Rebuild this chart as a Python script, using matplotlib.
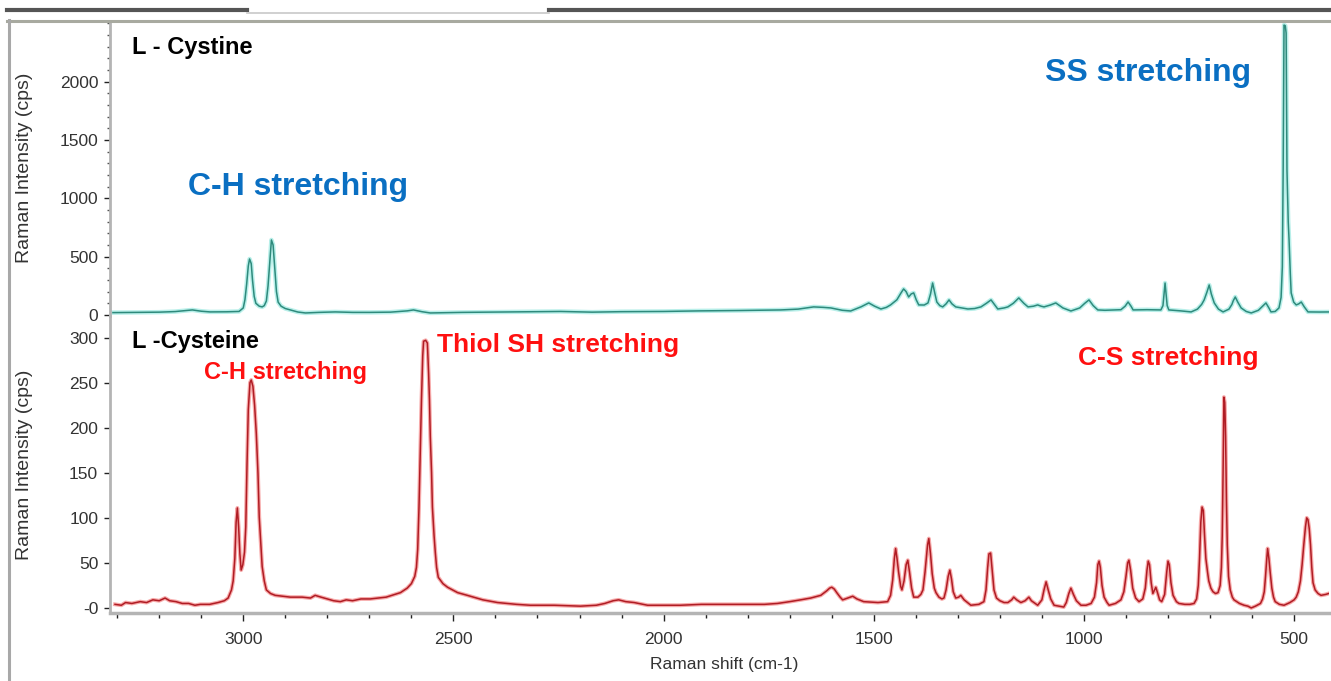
"""
Raman spectra of L-Cystine and L-Cysteine (two stacked panels)
"""

import matplotlib
matplotlib.use('Agg')  # Non-interactive backend

from matplotlib import pyplot as plt
from matplotlib.lines import Line2D
from matplotlib.ticker import MultipleLocator, FixedLocator, FixedFormatter

plt.rcParams['font.family'] = ['Liberation Sans', 'DejaVu Sans']

# =============================================================================
# Data: (Raman shift cm-1, intensity cps)
# =============================================================================
cystine_points = [
    (3310, 20), (3280, 21), (3245, 22), (3200, 24), (3162, 29), (3135, 38),
    (3121, 43), (3100, 32), (3079, 26), (3040, 27), (3010, 30), (3000, 60),
    (2996, 130), (2992, 260), (2988, 420), (2985, 480), (2981, 440), (2978, 300),
    (2974, 160), (2970, 100), (2962, 75), (2955, 69), (2950, 80), (2945, 120),
    (2941, 250), (2937, 450), (2933, 643), (2929, 600), (2925, 400), (2921, 200),
    (2917, 110), (2910, 75), (2900, 55), (2888, 43), (2870, 25), (2852, 17),
    (2820, 22), (2781, 26), (2740, 22), (2700, 22), (2650, 24), (2610, 35),
    (2595, 43), (2575, 28), (2555, 17), (2480, 22), (2388, 25), (2300, 28),
    (2245, 30), (2170, 24), (2102, 28), (2000, 30), (1912, 35), (1820, 38),
    (1721, 43), (1680, 50), (1643, 69), (1620, 65), (1602, 60), (1575, 40),
    (1555, 34), (1530, 70), (1512, 103), (1498, 75), (1483, 51), (1470, 65),
    (1460, 86), (1445, 130), (1435, 190), (1429, 223), (1423, 200), (1417, 154),
    (1411, 180), (1405, 189), (1399, 130), (1393, 86), (1380, 85), (1371, 103),
    (1365, 180), (1360, 274), (1355, 190), (1350, 111), (1343, 80), (1336, 69),
    (1328, 95), (1321, 129), (1314, 95), (1305, 69), (1290, 60), (1276, 51),
    (1260, 55), (1245, 69), (1232, 100), (1221, 129), (1212, 85), (1205, 51),
    (1190, 60), (1181, 69), (1168, 100), (1155, 146), (1143, 100), (1133, 69),
    (1120, 75), (1110, 86), (1102, 75), (1095, 69), (1080, 85), (1067, 103),
    (1050, 60), (1031, 34), (1010, 60), (998, 100), (988, 129), (978, 80),
    (967, 43), (950, 40), (929, 43), (912, 45), (902, 75), (895, 111),
    (888, 75), (883, 43), (850, 45), (817, 43), (812, 80), (809, 200),
    (807, 274), (805, 200), (802, 80), (798, 43), (770, 35), (745, 26),
    (730, 50), (720, 90), (714, 129), (707, 200), (702, 257), (697, 180),
    (690, 103), (680, 50), (669, 26), (655, 50), (648, 90), (645, 120),
    (640, 154), (634, 110), (626, 60), (614, 30), (602, 17), (585, 40),
    (575, 75), (567, 103), (560, 60), (555, 26), (545, 30), (536, 60),
    (531, 150), (528, 411), (526, 1268), (524, 2485), (521, 2480), (519, 2417),
    (517, 1243), (514, 800), (512, 643), (509, 350), (507, 189), (501, 110),
    (495, 86), (489, 95), (483, 111), (476, 70), (467, 26), (440, 25),
    (412, 26),
]

cysteine_points = [
    (3305, 4), (3290, 3), (3280, 6), (3265, 5), (3245, 7), (3230, 6),
    (3215, 9), (3200, 8), (3186, 11), (3175, 8), (3160, 7), (3145, 5),
    (3130, 5), (3115, 3), (3102, 4), (3080, 4), (3060, 6), (3045, 8),
    (3036, 11), (3028, 20), (3024, 30), (3020, 55), (3017, 95), (3014, 111),
    (3011, 90), (3008, 60), (3005, 42), (3001, 48), (2997, 62), (2994, 90),
    (2991, 160), (2988, 220), (2984, 250), (2981, 253), (2977, 246), (2973, 225),
    (2969, 194), (2965, 150), (2962, 101), (2958, 70), (2955, 46), (2950, 30),
    (2945, 20), (2935, 16), (2924, 14), (2905, 13), (2888, 12), (2860, 12),
    (2840, 11), (2829, 14), (2815, 12), (2800, 10), (2785, 8), (2769, 7),
    (2755, 9), (2740, 8), (2720, 10), (2698, 10), (2680, 11), (2660, 12),
    (2640, 15), (2626, 17), (2610, 22), (2600, 27), (2592, 35), (2588, 45),
    (2585, 65), (2582, 110), (2579, 170), (2576, 231), (2573, 280), (2571, 296),
    (2566, 297), (2562, 294), (2559, 260), (2557, 231), (2555, 190), (2552, 150),
    (2550, 112), (2546, 80), (2543, 61), (2540, 45), (2536, 34), (2525, 27),
    (2514, 23), (2490, 17), (2467, 14), (2430, 9), (2395, 6), (2350, 4),
    (2317, 3), (2260, 3), (2198, 2), (2160, 3), (2140, 5), (2120, 8),
    (2107, 9), (2090, 7), (2070, 6), (2038, 3), (2000, 3), (1960, 3),
    (1910, 4), (1864, 4), (1800, 4), (1760, 4), (1729, 5), (1700, 7),
    (1674, 9), (1650, 11), (1626, 14), (1612, 19), (1605, 22), (1600, 23),
    (1594, 21), (1588, 17), (1580, 12), (1574, 9), (1562, 11), (1550, 13),
    (1540, 10), (1524, 7), (1490, 6), (1467, 7), (1460, 14), (1455, 31),
    (1451, 55), (1448, 66), (1445, 56), (1441, 40), (1436, 24), (1433, 20),
    (1428, 30), (1423, 48), (1419, 53), (1415, 40), (1410, 22), (1405, 12),
    (1395, 12), (1388, 15), (1383, 20), (1378, 40), (1372, 70), (1369, 77),
    (1365, 60), (1361, 38), (1356, 22), (1352, 17), (1345, 12), (1338, 10),
    (1333, 11), (1328, 20), (1323, 35), (1319, 42), (1315, 32), (1311, 18),
    (1305, 11), (1298, 12), (1293, 14), (1285, 9), (1269, 3), (1250, 4),
    (1238, 7), (1233, 20), (1229, 45), (1226, 60), (1222, 61), (1218, 40),
    (1214, 20), (1208, 11), (1200, 8), (1190, 6), (1181, 6), (1172, 9),
    (1167, 12), (1160, 9), (1150, 6), (1140, 8), (1131, 12), (1125, 8),
    (1110, 3), (1100, 9), (1095, 20), (1090, 29), (1085, 20), (1079, 10),
    (1071, 3), (1060, 2), (1048, 1), (1042, 6), (1036, 16), (1031, 22),
    (1025, 15), (1018, 8), (1007, 3), (995, 3), (983, 5), (975, 12),
    (970, 28), (967, 48), (964, 52), (961, 45), (957, 25), (952, 12),
    (945, 6), (940, 3), (925, 5), (912, 9), (905, 18), (900, 35),
    (896, 50), (893, 53), (889, 42), (884, 22), (877, 11), (869, 7),
    (860, 10), (854, 22), (850, 42), (847, 52), (844, 48), (840, 28),
    (836, 16), (832, 20), (829, 23), (825, 17), (820, 9), (815, 7),
    (808, 15), (803, 40), (800, 52), (797, 48), (793, 28), (788, 14),
    (780, 7), (774, 5), (760, 4), (748, 4), (738, 5), (732, 10),
    (728, 25), (725, 55), (722, 95), (719, 112), (716, 108), (713, 80),
    (710, 55), (706, 40), (703, 30), (698, 22), (693, 18), (687, 16),
    (681, 17), (676, 25), (673, 45), (671, 80), (669, 150), (667, 234),
    (665, 228), (663, 190), (661, 120), (659, 70), (656, 35), (652, 20),
    (647, 12), (643, 9), (630, 5), (619, 3), (610, 2), (602, 0),
    (592, 2), (580, 5), (575, 10), (571, 18), (568, 35), (565, 55),
    (563, 66), (560, 55), (557, 40), (553, 22), (549, 12), (545, 7),
    (535, 4), (524, 3), (510, 6), (500, 9), (495, 12), (490, 18),
    (485, 30), (481, 48), (477, 70), (473, 90), (470, 100), (467, 98),
    (464, 88), (461, 70), (458, 45), (455, 28), (450, 20), (443, 16),
    (436, 14), (425, 15), (418, 16), (412, 17),
]

cystine_shift, cystine_int = zip(*cystine_points)
cysteine_shift, cysteine_int = zip(*cysteine_points)

top_yticks = [0, 500, 1000, 1500, 2000]
bot_yticks = [0, 50, 100, 150, 200, 250, 300]
bot_yticklabels = ['-0', '50', '100', '150', '200', '250', '300']
x_ticks = [3000, 2500, 2000, 1500, 1000, 500]

# =============================================================================
# Figure layout (pixel based, 1331 x 681)
# =============================================================================
W, H = 1331, 681
fig = plt.figure(figsize=(W / 100, H / 100), dpi=100)


def fx(px):
    return px / W


def fy(py):
    return 1 - py / H


ax_top = fig.add_axes([fx(110), fy(316), fx(1329) - fx(110), fy(21) - fy(316)])
ax_bot = fig.add_axes([fx(110), fy(613), fx(1329) - fx(110), fy(316) - fy(613)],
                      sharex=ax_top)

tick_color = '#333333'
spine_color = '#b4b4b4'

# Top panel: L-Cystine
ax_top.plot(cystine_shift, cystine_int, color='#b8efe9', lw=3.2)
ax_top.plot(cystine_shift, cystine_int, color='#2e8a7c', lw=1.1)
ax_top.set_ylim(-9, 2520)
ax_top.yaxis.set_major_locator(FixedLocator(top_yticks))
ax_top.yaxis.set_minor_locator(MultipleLocator(100))
ax_top.tick_params(axis='x', which='both', bottom=False, labelbottom=False)
for side in ['top', 'right', 'bottom']:
    ax_top.spines[side].set_visible(False)

# Bottom panel: L-Cysteine
ax_bot.plot(cysteine_shift, cysteine_int, color='#f7aaaa', lw=2.8)
ax_bot.plot(cysteine_shift, cysteine_int, color='#b01c24', lw=1.1)
ax_bot.set_ylim(-5.6, 324)
ax_bot.yaxis.set_major_locator(FixedLocator(bot_yticks))
ax_bot.yaxis.set_major_formatter(FixedFormatter(bot_yticklabels))
ax_bot.xaxis.set_major_locator(FixedLocator(x_ticks))
ax_bot.xaxis.set_minor_locator(MultipleLocator(100))
for side in ['top', 'right']:
    ax_bot.spines[side].set_visible(False)
ax_bot.spines['bottom'].set_color(spine_color)
ax_bot.spines['bottom'].set_linewidth(2.5)
ax_top.set_xlim(3317, 417)

for ax in [ax_top, ax_bot]:
    ax.set_facecolor('none')
    ax.spines['left'].set_color(spine_color)
    ax.spines['left'].set_linewidth(2)
    ax.tick_params(axis='y', which='major', length=4.5, width=1, color='#222222',
                   labelsize=12.5, labelcolor=tick_color, pad=4)
    ax.tick_params(axis='y', which='minor', length=2, width=1, color='#555555')

ax_bot.tick_params(axis='x', which='major', length=6, width=1, color='#222222',
                   labelsize=12.5, labelcolor=tick_color, pad=8)
ax_bot.tick_params(axis='x', which='minor', length=3.5, width=1, color='#222222')

# Axis labels
fig.text(fx(25), fy(168), 'Raman Intensity (cps)', rotation=90, ha='center',
         va='center', fontsize=14, color=tick_color)
fig.text(fx(25), fy(465), 'Raman Intensity (cps)', rotation=90, ha='center',
         va='center', fontsize=14, color=tick_color)
fig.text(fx(724), fy(664), 'Raman shift (cm-1)', ha='center', va='center',
         fontsize=12.5, color=tick_color)

# Panel titles and band annotations
blue = '#0a6fc2'
red = '#ff1010'
fig.text(fx(132), fy(54), 'L - Cystine', fontsize=17, fontweight='bold',
         color='black', va='baseline')
fig.text(fx(188), fy(195), 'C-H stretching', fontsize=23, fontweight='bold',
         color=blue, va='baseline')
fig.text(fx(1045), fy(81), 'SS stretching', fontsize=23, fontweight='bold',
         color=blue, va='baseline')
fig.text(fx(132), fy(348), 'L -Cysteine', fontsize=17, fontweight='bold',
         color='black', va='baseline')
fig.text(fx(204), fy(379), 'C-H stretching', fontsize=17, fontweight='bold',
         color=red, va='baseline')
fig.text(fx(437), fy(352), 'Thiol SH stretching', fontsize=19, fontweight='bold',
         color=red, va='baseline')
fig.text(fx(1078), fy(365), 'C-S stretching', fontsize=19, fontweight='bold',
         color=red, va='baseline')

# Window frame around the plot area
frame = [
    ([7, 247], [9.5, 9.5], '#555555', 3.0),
    ([549, 1331], [9.5, 9.5], '#555555', 3.0),
    ([247, 549], [12.5, 12.5], '#c8c8c8', 1.2),
    ([7, 1331], [20.5, 20.5], '#a8aaa0', 2.2),
    ([8.5, 8.5], [20, 681], '#a8a8a8', 2.2),
]
for xs, ys, c, lw in frame:
    fig.add_artist(Line2D([fx(x) for x in xs], [fy(y) for y in ys],
                          color=c, lw=lw, transform=fig.transFigure))

fig.savefig('out.png', dpi=100)
plt.close(fig)
